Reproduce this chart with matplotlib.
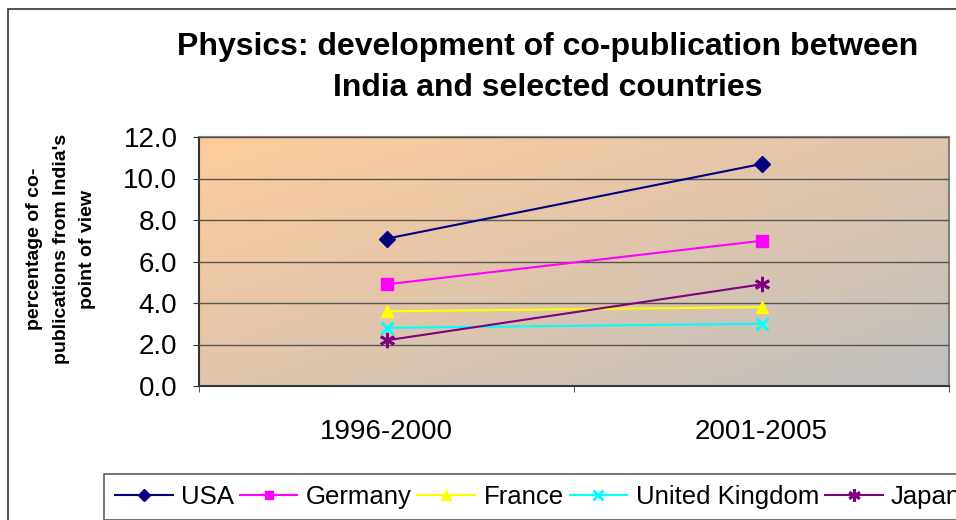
import numpy as np
import matplotlib
matplotlib.use('Agg')
import matplotlib.pyplot as plt
from matplotlib.colors import LinearSegmentedColormap
from matplotlib.patches import Rectangle

plt.rcParams['font.family'] = ['Liberation Sans', 'DejaVu Sans']

periods = ['1996-2000', '2001-2005']
usa = [7.1, 10.7]
germany = [4.9, 7.0]
france = [3.6, 3.8]
uk = [2.8, 3.0]
japan = [2.2, 4.9]

series = [
    ('USA', usa, '#000080', 'D', 8),
    ('Germany', germany, '#FF00FF', 's', 8),
    ('France', france, '#FFFF00', '^', 9),
    ('United Kingdom', uk, '#00FFFF', 'x', 9),
    ('Japan', japan, '#800080', (6, 2, 0), 11),
]

fig = plt.figure(figsize=(9.56, 5.2), dpi=100)
W, H = 956, 520

# outer chart border
fig.patches.append(Rectangle((8 / W, -0.1), 1.2, 1 - 9 / H + 0.1, transform=fig.transFigure,
                             fill=False, edgecolor='#333333', linewidth=1.2))

ax = fig.add_axes([199 / W, 1 - 386 / H, (949 - 199) / W, (386 - 137) / H])

# diagonal gradient background
cmap = LinearSegmentedColormap.from_list('bg', ['#FFCC99', '#C0C0C0'])
gx, gy = np.meshgrid(np.linspace(0, 1, 200), np.linspace(0, 1, 200))
grad = (gx + gy) / 2
ax.imshow(grad, extent=[0, 1, 0, 1], transform=ax.transAxes, cmap=cmap,
          aspect='auto', zorder=0, origin='upper')

x = np.arange(len(periods))
for name, vals, color, marker, ms in series:
    ax.plot(x, vals, color=color, linewidth=1.5, marker=marker, markersize=ms,
            markeredgewidth=2 if marker in ('x', (6, 2, 0)) else 1,
            markeredgecolor=color, label=name, zorder=3)

ax.set_xlim(-0.5, 1.5)
ax.set_ylim(0, 12)
ax.set_yticks(np.arange(0, 12.1, 2))
ax.set_yticklabels([f'{v:.1f}' for v in np.arange(0, 12.1, 2)])
ax.set_xticks(x)
ax.set_xticklabels(periods)
ax.set_xticks([-0.5, 0.5, 1.5], minor=True)
ax.tick_params(axis='x', which='major', length=0, pad=24, labelsize=20)
ax.tick_params(axis='x', which='minor', length=4.5, direction='out', color='#333333')
ax.tick_params(axis='y', length=4.5, direction='out', labelsize=20, pad=11, color='#333333')
ax.grid(axis='y', color='#555555', linewidth=1, zorder=1)
ax.set_axisbelow(False)
for s in ['top', 'right']:
    ax.spines[s].set_color('#808080')
    ax.spines[s].set_linewidth(1.5)
for s in ['left', 'bottom']:
    ax.spines[s].set_color('#333333')
    ax.spines[s].set_linewidth(1.5)

fig.text(61 / W, 1 - 249 / H, "percentage of co-\npublications from India's\npoint of view",
         rotation=90, ha='center', va='center', fontsize=14, fontweight='bold',
         linespacing=1.75)

fig.text(548 / W, 1 - 47 / H, 'Physics: development of co-publication between',
         ha='center', va='center', fontsize=23, fontweight='bold')
fig.text(548 / W, 1 - 88 / H, 'India and selected countries',
         ha='center', va='center', fontsize=23, fontweight='bold')

leg = fig.legend(loc='upper left', bbox_to_anchor=(104 / W, 1 - 474 / H), ncol=5,
                 frameon=True, fancybox=False, fontsize=18.5, handlelength=2.25,
                 columnspacing=0.22, handletextpad=0.33, borderpad=0.42,
                 borderaxespad=0, markerscale=0.8)
leg.get_frame().set_edgecolor('#333333')
leg.get_frame().set_linewidth(1.2)

fig.savefig('out.png', dpi=100)
